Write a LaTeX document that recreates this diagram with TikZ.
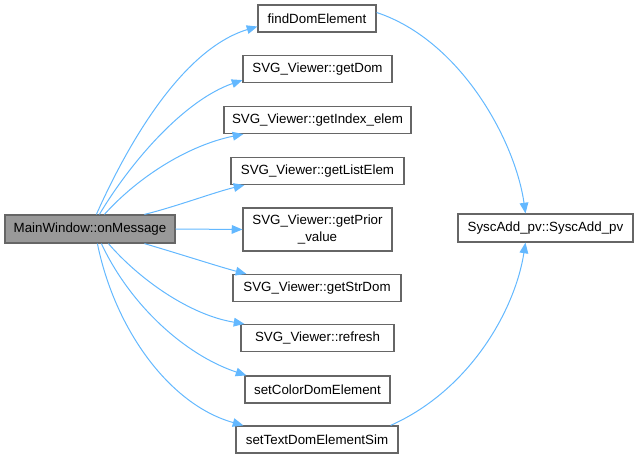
\documentclass[tikz,border=0pt]{standalone}
\usepackage{fontspec}
\setmainfont{Liberation Sans}
\usetikzlibrary{arrows.meta,calc}
\definecolor{edgec}{HTML}{63B8FF}
\definecolor{boxc}{HTML}{666666}
\definecolor{mainf}{HTML}{999999}
\tikzset{
  box/.style={draw=boxc, line width=0.9pt, fill=white, inner sep=0pt, minimum height=#1, align=center, font=\fontsize{10}{12.5}\selectfont},
  box/.default=20.25pt,
  edge/.style={draw=edgec, line width=0.75pt, -{Triangle[length=8pt,width=6.5pt]}}
}
\begin{document}
\begin{tikzpicture}[x=0.75pt,y=-0.75pt]
\useasboundingbox (0,0) rectangle (638,459);
\node[box=21pt, fill=mainf, minimum width=127.5pt] (main) at (90,229) {MainWindow::onMessage};
\node[box, minimum width=88.5pt] (find) at (317,18.5) {findDomElement};
\node[box, minimum width=111.75pt] (getdom) at (317.5,69) {SVG\_Viewer::getDom};
\node[box, minimum width=140.25pt] (getidx) at (317.5,120) {SVG\_Viewer::getIndex\_elem};
\node[box, minimum width=129.75pt] (getlist) at (317.5,171) {SVG\_Viewer::getListElem};
\node[box=32.25pt, minimum width=111.75pt] (getprior) at (317.5,229.5) {SVG\_Viewer::getPrior\\\_value};
\node[box, minimum width=126pt] (getstr) at (317,288) {SVG\_Viewer::getStrDom};
\node[box, minimum width=114.75pt] (refresh) at (317.5,338) {SVG\_Viewer::refresh};
\node[box, minimum width=108.75pt] (setcolor) at (317.5,389.5) {setColorDomElement};
\node[box, minimum width=121.5pt] (settext) at (317,439.5) {setTextDomElementSim};
\node[box=21pt, minimum width=131.25pt] (sysc) at (545.5,228) {SyscAdd\_pv::SyscAdd\_pv};

\draw[edge] ($(main.north west)+(92,0)$) .. controls (125,150) and (180,50) .. ($(find.west)+(0,8)$);
\draw[edge] ($(main.north west)+(95,0)$) .. controls (132,160) and (185,100) .. ($(getdom.south west)+(0,-3)$);
\draw[edge] ($(main.north west)+(100,0)$) .. controls (140,175) and (190,145) .. ($(getidx.south west)+(20,0)$);
\draw[edge] ($(main.north west)+(140,0)$) .. controls (175,207) and (215,192) .. ($(getlist.south west)+(14,0)$);
\draw[edge] (main.east) -- (getprior.west);
\draw[edge] ($(main.south west)+(140,0)$) .. controls (180,254) and (220,267) .. ($(getstr.north west)+(14,0)$);
\draw[edge] ($(main.south west)+(104,0)$) .. controls (140,280) and (190,315) .. ($(refresh.north west)+(4,0)$);
\draw[edge] ($(main.south west)+(97,0)$) .. controls (130,305) and (185,355) .. ($(setcolor.north west)+(2,0)$);
\draw[edge] ($(main.south west)+(93,0)$) .. controls (115,330) and (170,405) .. ($(settext.north west)+(8,0)$);
\draw[edge] ($(find.east)+(0,-6)$) .. controls (460,40) and (515,140) .. ($(sysc.north)+(-20,0)$);
\draw[edge] ($(settext.north east)+(-8,0)$) .. controls (470,390) and (515,310) .. ($(sysc.south)+(-20,0)$);
\end{tikzpicture}
\end{document}
